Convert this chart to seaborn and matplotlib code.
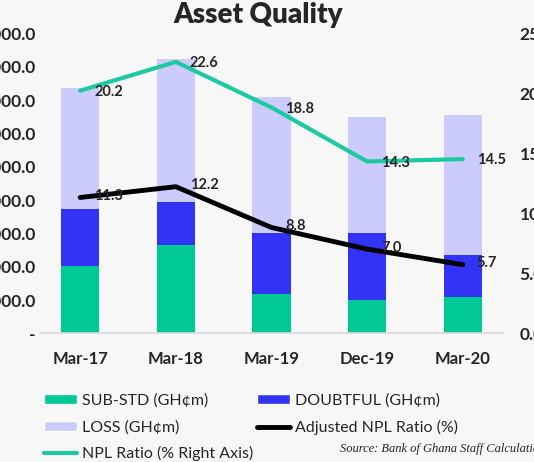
import numpy as np
import pandas as pd
import seaborn as sns
import matplotlib.pyplot as plt
from matplotlib.patches import Patch
from matplotlib.lines import Line2D
from matplotlib.ticker import FuncFormatter

periods = ["Mar-17", "Mar-18", "Mar-19", "Dec-19", "Mar-20"]
sub_std = [2010, 2650, 1170, 990, 1090]
doubtful = [1700, 1290, 1820, 2000, 1250]
loss = [3650, 4280, 4080, 3480, 4190]
npl_ratio = [20.2, 22.6, 18.8, 14.3, 14.5]
adj_npl = [11.3, 12.2, 8.8, 7.0, 5.7]

GREEN = "#00C995"
BLUE = "#3333F6"
LAV = "#CCCCFC"
BG = "#F7F7F7"

sns.set_style("white")
plt.rcParams["font.family"] = ["Lato", "DejaVu Sans"]

df = pd.DataFrame({"period": periods, "sub": sub_std, "doubt": doubtful, "loss": loss})
df["lvl2"] = df["sub"] + df["doubt"]
df["lvl3"] = df["lvl2"] + df["loss"]

fig = plt.figure(figsize=(5.34, 4.62), dpi=100, facecolor=BG)
ax = fig.add_axes([0.0749, 0.279, 0.867, 0.6494])
ax.set_facecolor(BG)

# stacked bars drawn as overlapping cumulative bars
for col, c in [("lvl3", LAV), ("lvl2", BLUE), ("sub", GREEN)]:
    sns.barplot(data=df, x="period", y=col, color=c, width=0.4, saturation=1,
                linewidth=0, ax=ax)

ax.set_ylim(0, 9000)
ax.set_yticks(np.arange(0, 9001, 1000))
ax.yaxis.set_major_formatter(FuncFormatter(lambda v, p: "-" if v == 0 else f"{v:,.1f}"))
ax.set_xlabel("")
ax.set_ylabel("")
ax.tick_params(axis="x", length=0, pad=13, labelsize=12)
ax.tick_params(axis="y", length=0, pad=3, labelsize=12.5)
for lab in ax.get_xticklabels() + ax.get_yticklabels():
    lab.set_fontweight("bold")
for s in ["top", "left", "right"]:
    ax.spines[s].set_visible(False)
ax.spines["bottom"].set_color("#D9D9D9")
ax.spines["bottom"].set_linewidth(1.2)

ax2 = ax.twinx()
sns.lineplot(x=periods, y=npl_ratio, color="#1DC9A0", linewidth=3, sort=False, ax=ax2)
sns.lineplot(x=periods, y=adj_npl, color="black", linewidth=3.5, sort=False, ax=ax2)
ax2.set_ylim(0, 25)
ax2.set_yticks(np.arange(0, 26, 5))
ax2.yaxis.set_major_formatter(FuncFormatter(lambda v, p: f"{v:.1f}"))
ax2.tick_params(axis="y", length=0, pad=12, labelsize=12.5)
for lab in ax2.get_yticklabels():
    lab.set_fontweight("bold")
for s in ["top", "left", "right", "bottom"]:
    ax2.spines[s].set_visible(False)

for i, v in enumerate(npl_ratio):
    ax2.annotate(f"{v:.1f}", (i, v), xytext=(10, -1), textcoords="offset points",
                 ha="left", va="center", fontsize=10.5, fontweight="bold")
for i, v in enumerate(adj_npl):
    ax2.annotate(f"{v:.1f}", (i, v), xytext=(10, 1), textcoords="offset points",
                 ha="left", va="center", fontsize=10.5, fontweight="bold")

fig.text(0.483, 0.968, "Asset Quality", ha="center", va="center",
         fontsize=20, fontweight="heavy")

handles = [
    Patch(facecolor=GREEN, label="SUB-STD (GH¢m)"),
    Patch(facecolor=LAV, label="LOSS (GH¢m)"),
    Line2D([], [], color="#1DC9A0", linewidth=3, label="NPL Ratio (% Right Axis)"),
    Patch(facecolor=BLUE, label="DOUBTFUL (GH¢m)"),
    Line2D([], [], color="black", linewidth=3.5, label="Adjusted NPL Ratio (%)"),
]
fig.legend(handles=handles, ncol=2, loc="upper left", bbox_to_anchor=(0.082, 0.148),
           frameon=False, fontsize=11.5, handlelength=2.1, handleheight=0.6,
           handletextpad=0.3, columnspacing=0.2, labelspacing=0.75,
           borderpad=0, borderaxespad=0)

fig.text(0.637, 0.015, "Source: Bank of Ghana Staff Calculations", ha="left", va="bottom",
         fontsize=9, style="italic", family="Liberation Serif")

fig.savefig("out.png", dpi=100, facecolor=BG)
